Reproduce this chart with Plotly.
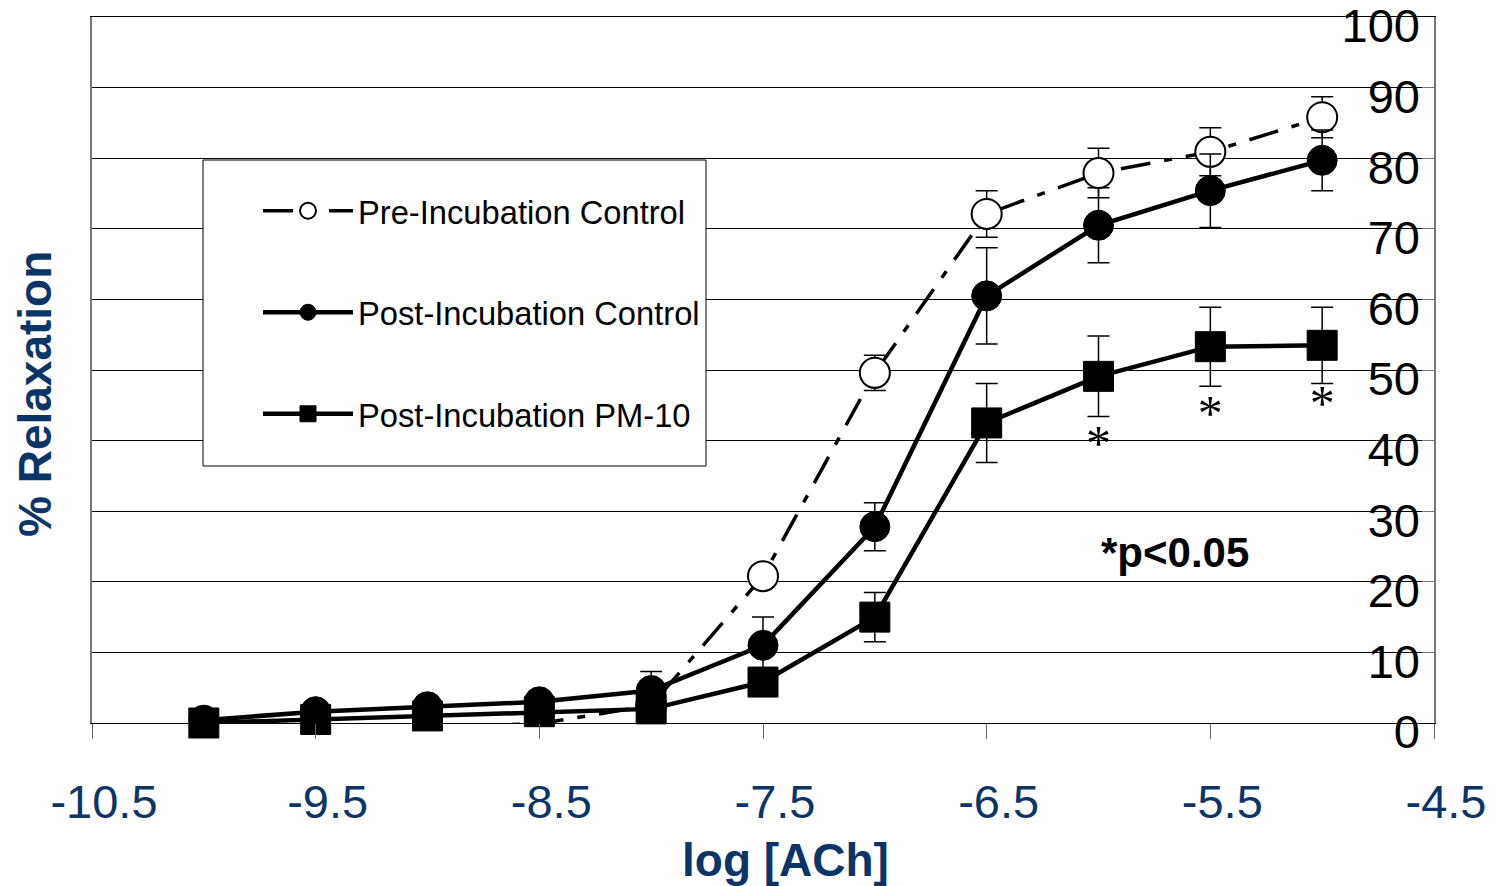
import plotly.graph_objects as go

log_ach = [-10, -9.5, -9, -8.5, -8, -7.5, -7, -6.5, -6, -5.5, -5]

pre_ctrl = [-0.3, -0.6, -0.6, -0.1, 2.5, 20.8, 49.6, 72.1, 77.9, 80.9, 85.8]
pre_err = [0, 0, 0, 0, 0, 1.0, 2.5, 3.3, 3.5, 3.4, 2.9]

post_ctrl = [0.4, 1.6, 2.3, 3.0, 4.6, 11.0, 27.8, 60.5, 70.5, 75.4, 79.7]
post_err = [0, 0, 0, 0, 2.7, 4.0, 3.4, 6.8, 5.3, 5.2, 4.3]

post_pm10 = [0.0, 0.5, 1.0, 1.6, 2.0, 5.8, 15.0, 42.5, 49.1, 53.3, 53.5]
pm10_err = [0, 0, 0, 0, 0, 0, 3.5, 5.6, 5.7, 5.6, 5.4]

star_x = [-6, -5.5, -5]
star_y = [39.0, 43.3, 44.7]

x_ticks = [-10.5, -9.5, -8.5, -7.5, -6.5, -5.5, -4.5]
y_ticks = [0, 10, 20, 30, 40, 50, 60, 70, 80, 90, 100]

NAVY = "#0B3467"
FONT = "Liberation Sans, Arial, sans-serif"

OFF = 8  # page body margin
W, H = 1498 - OFF, 886 - OFF
L, R, T, B = 92 - OFF, 1434 - OFF, 17 - OFF, 723 - OFF
pw = R - L
ph = B - T


def px(xr):
    return (xr - OFF - L) / pw


def py(yr):
    return (B - (yr - OFF)) / ph


fig = go.Figure()


def err_style(arr):
    return dict(type="data", array=arr, visible=True, color="black",
                thickness=1.5, width=11)


fig.add_trace(go.Scatter(
    x=log_ach, y=pre_ctrl, name="Pre-Incubation Control", mode="lines+markers",
    line=dict(color="black", width=3.5, dash="30px,14px,8px,14px"),
    marker=dict(symbol="circle", size=30, color="white", line=dict(color="black", width=2)),
    error_y=err_style(pre_err), cliponaxis=False, legendgroup="a"))

fig.add_trace(go.Scatter(
    x=log_ach, y=post_ctrl, name="Post-Incubation Control", mode="lines+markers",
    line=dict(color="black", width=4.5),
    marker=dict(symbol="circle", size=30, color="black", line=dict(color="black", width=1)),
    error_y=err_style(post_err), cliponaxis=False, legendgroup="b"))

fig.add_trace(go.Scatter(
    x=log_ach, y=post_pm10, name="Post-Incubation PM-10", mode="lines+markers",
    line=dict(color="black", width=4.5),
    marker=dict(symbol="square", size=30, color="black", line=dict(color="black", width=1)),
    error_y=err_style(pm10_err), cliponaxis=False, legendgroup="c"))

fig.add_trace(go.Scatter(
    x=star_x, y=star_y, mode="text", text=["*"] * len(star_x), yaxis="y2",
    textfont=dict(family="Liberation Serif, Times New Roman, serif", size=50, color="black"),
    textposition="middle center", showlegend=False, cliponaxis=False, hoverinfo="skip"))

fig.add_shape(type="rect", xref="paper", yref="paper",
              x0=px(203), x1=px(706), y0=py(466), y1=py(160),
              line=dict(color="black", width=1), fillcolor="white", layer="above")

fig.add_annotation(x=-5.66, y=24.1, xref="x", yref="y", text="<b>*p<0.05</b>",
                   showarrow=False, font=dict(family=FONT, size=42, color="black"))

fig.add_annotation(x=px(35), y=py(394), xref="paper", yref="paper",
                   xanchor="center", yanchor="middle",
                   text="<b>% Relaxation</b>", textangle=-90, showarrow=False,
                   font=dict(family=FONT, size=46, color=NAVY))
fig.add_annotation(x=px(786), y=py(860), xref="paper", yref="paper",
                   xanchor="center", yanchor="middle",
                   text="<b>log [ACh]</b>", showarrow=False,
                   font=dict(family=FONT, size=46, color=NAVY))

fig.update_layout(
    width=W, height=H,
    margin=dict(l=L, r=W - R, t=T, b=H - B, pad=0, autoexpand=False),
    paper_bgcolor="white", plot_bgcolor="white",
    font=dict(family=FONT, color="black"),
    showlegend=True,
    legend=dict(x=px(258), y=py(183), xanchor="left", yanchor="top",
                bgcolor="rgba(0,0,0,0)", borderwidth=0, itemwidth=90,
                tracegroupgap=56, font=dict(family=FONT, size=32.7, color="black"),
                itemclick=False, itemdoubleclick=False),
    xaxis=dict(range=[-10.5, -4.5], tickvals=x_ticks, ticktext=[str(v) for v in x_ticks],
               showgrid=False, zeroline=False, showline=True, linecolor="black", linewidth=1,
               mirror=True, ticks="outside", ticklen=15, tickcolor="#666", tickwidth=1,
               tickfont=dict(family=FONT, size=47, color=NAVY), ticklabelshift=12,
               ticklabelstandoff=23, ticklabeloverflow="allow", automargin=False),
    yaxis=dict(range=[0, 100], tickvals=y_ticks, side="right", showticklabels=False,
               showgrid=True, gridcolor="black", gridwidth=1, zeroline=False,
               showline=True, linecolor="#777", linewidth=1.5, mirror=True,
               ticks="inside", ticklen=12, tickcolor="#777", automargin=False),
    yaxis2=dict(range=[0, 100], tickvals=y_ticks, overlaying="y", side="left",
                anchor="free", position=px(1420), showgrid=False, zeroline=False,
                showline=False, ticks="", ticklabelposition="outside",
                ticklabeloverflow="allow", automargin=False,
                tickfont=dict(family=FONT, size=47, color="black"), ticklabelshift=9),
)

fig.write_html("out.html")
